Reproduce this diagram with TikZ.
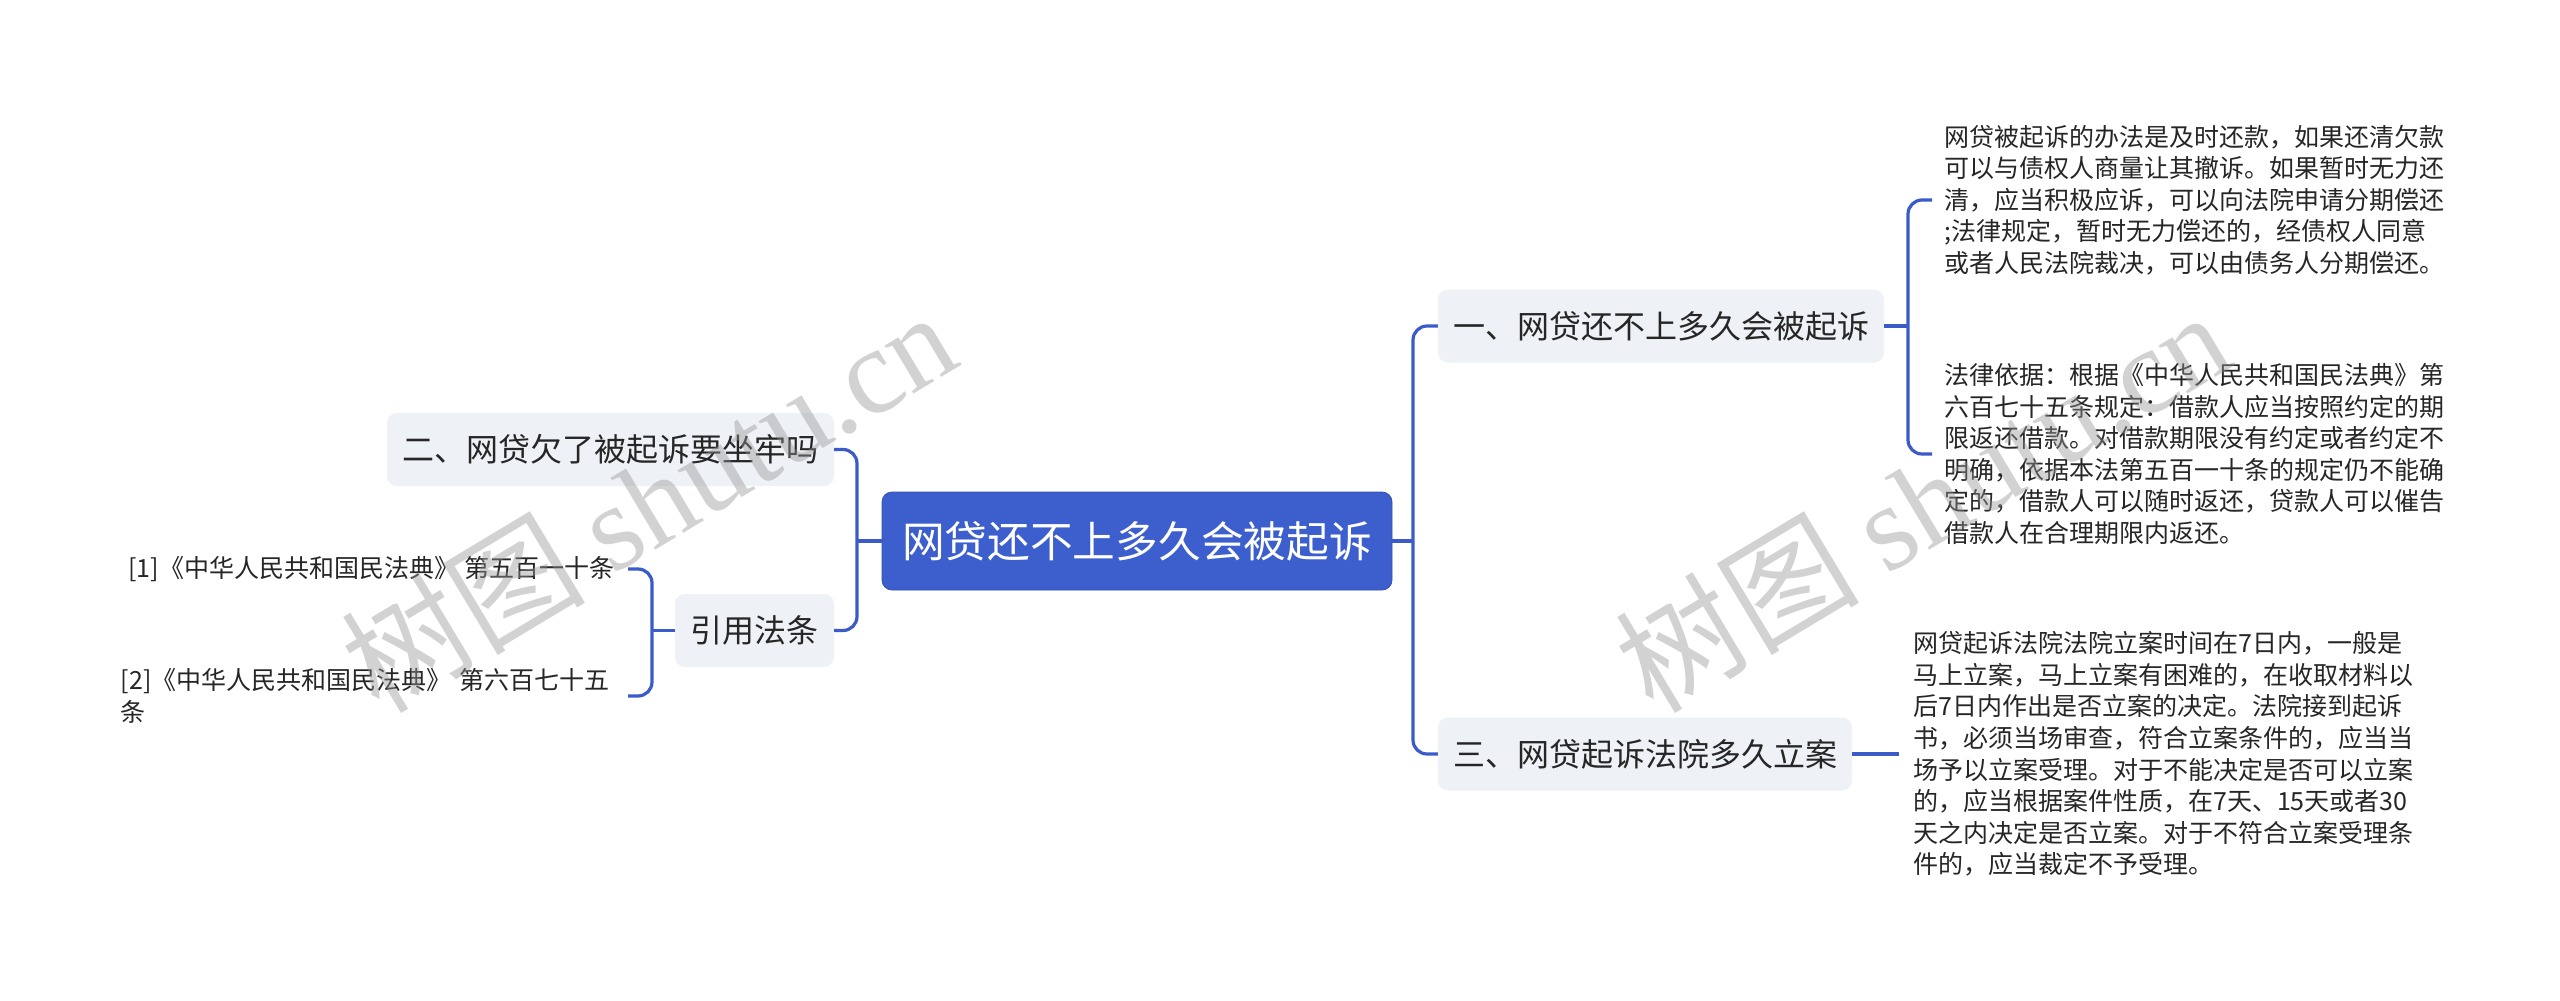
\documentclass[tikz,border=0pt]{standalone}
\usepackage{fontspec}
\setmainfont{Noto Sans CJK SC}
\newfontfamily\wmlatin{Liberation Serif}
\definecolor{mainblue}{RGB}{59,91,200}
\definecolor{rootfill}{RGB}{61,95,205}
\definecolor{boxgray}{RGB}{238,241,245}
\definecolor{txt}{RGB}{38,38,38}
\definecolor{wm}{RGB}{150,150,150}
\tikzset{
  conn/.style={draw=mainblue, line width=3.2pt, rounded corners=14pt},
  rootbox/.style={fill=rootfill, draw=rootfill!85!black, line width=0.8pt, rounded corners=10pt, text=white, inner sep=0pt, font=\fontsize{42.7}{46}\selectfont},
  branchbox/.style={fill=boxgray, rounded corners=10pt, text=txt, inner sep=0pt, minimum height=73pt, font=\fontsize{32}{38}\selectfont},
  leaftext/.style={text=txt, inner xsep=12pt, inner ysep=0pt, align=left, font=\fontsize{25}{31.6}\selectfont},
  wmark/.style={text=wm, text opacity=0.42, rotate=31, inner sep=0pt, font=\fontsize{122}{122}\selectfont}
}
\begin{document}
\begin{tikzpicture}[x=1pt,y=-1pt]
\useasboundingbox (0,0) rectangle (2560,1001);
\fill[white] (0,0) rectangle (2560,1001);
% root
\node[rootbox, minimum width=510pt, minimum height=98pt] (root) at (1137,541) {网贷还不上多久会被起诉};
% right branches
\node[branchbox, minimum width=446pt] (b1) at (1661,326) {一、网贷还不上多久会被起诉};
\node[branchbox, minimum width=414pt] (b3) at (1645,754) {三、网贷起诉法院多久立案};
% left branches
\node[branchbox, minimum width=447pt] (b2) at (610.5,449.5) {二、网贷欠了被起诉要坐牢吗};
\node[branchbox, minimum width=159pt] (cite) at (754.5,630.5) {引用法条};
% leaves of b1
\node[leaftext, anchor=west] (l1) at (1932,200) {网贷被起诉的办法是及时还款，如果还清欠款\\可以与债权人商量让其撤诉。如果暂时无力还\\清，应当积极应诉，可以向法院申请分期偿还\\;法律规定，暂时无力偿还的，经债权人同意\\或者人民法院裁决，可以由债务人分期偿还。};
\node[leaftext, anchor=west] (l2) at (1932,454) {法律依据：根据《中华人民共和国民法典》第\\六百七十五条规定：借款人应当按照约定的期\\限返还借款。对借款期限没有约定或者约定不\\明确，依据本法第五百一十条的规定仍不能确\\定的，借款人可以随时返还，贷款人可以催告\\借款人在合理期限内返还。};
% leaf of b3
\node[leaftext, inner xsep=14pt, anchor=west] (l3) at (1899,754) {网贷起诉法院法院立案时间在7日内，一般是\\马上立案，马上立案有困难的，在收取材料以\\后7日内作出是否立案的决定。法院接到起诉\\书，必须当场审查，符合立案条件的，应当当\\场予以立案受理。对于不能决定是否可以立案\\的，应当根据案件性质，在7天、15天或者30\\天之内决定是否立案。对于不符合立案受理条\\件的，应当裁定不予受理。};
% references
\node[leaftext, inner xsep=13pt, anchor=east] (r1) at (628,569) {[1]《中华人民共和国民法典》 第五百一十条};
\node[leaftext, inner xsep=13pt, anchor=east, text width=494pt] (r2) at (628,696) {[2]《中华人民共和国民法典》 第六百七十五\\条};
% bus coordinates
\coordinate (rbus) at (1413,541);
\coordinate (lbus) at (857,541);
\coordinate (b1bus) at (1908,326);
\coordinate (cbus) at (652,630.5);
% connectors
\draw[conn] (root.east) -- (rbus);
\draw[conn] (b1.west) -| (rbus) |- (b3.west);
\draw[conn] (root.west) -- (lbus);
\draw[conn] (b2.east) -| (lbus) |- (cite.east);
\draw[conn] (b1.east) -- (b1bus);
\draw[conn] (l1.west) -| (b1bus) |- (l2.west);
\draw[conn] (b3.east) -- (l3.west);
\draw[conn] (cite.west) -- (cbus);
\draw[conn] (r1.east) -| (cbus) |- (r2.east);
% watermarks
\node[wmark] (wm1) at (648,500) {树图 {\wmlatin shutu.cn}};
\node[wmark] (wm2) at (1922,500) {树图 {\wmlatin shutu.cn}};
\end{tikzpicture}
\end{document}
